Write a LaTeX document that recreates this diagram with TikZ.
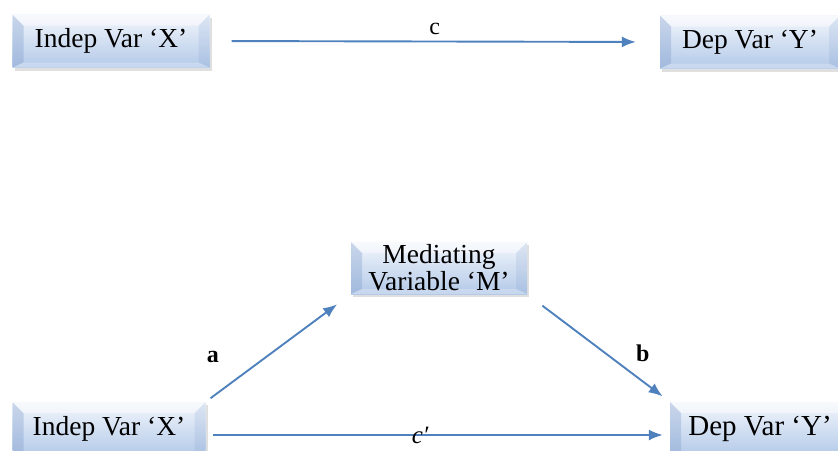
\documentclass[tikz,border=0pt]{standalone}
\usepackage{fontspec}
\setmainfont{Liberation Serif}
\newfontfamily\tnr{Liberation Serif}
\usetikzlibrary{arrows.meta,shadows,positioning}
\definecolor{linea}{HTML}{4F81BD}
\definecolor{cajaalta}{HTML}{F2F6FC}
\definecolor{cajabaja}{HTML}{B3C9E8}
\definecolor{bisel}{HTML}{7F9DCC}

\begin{document}
\begin{tikzpicture}[x=1pt,y=-1pt,>={Latex[length=14pt,width=11pt]},
      caja/.style={minimum width=197pt,minimum height=53pt,inner sep=0pt,
        align=center,font=\tnr\fontsize{27.5}{30}\selectfont,
        top color=cajaalta,bottom color=cajabaja,
        drop shadow={opacity=0.25,shadow xshift=2pt,shadow yshift=-3pt},
        path picture={
          \fill[bisel,opacity=0.35] (path picture bounding box.north west)
            -- ([xshift=11pt,yshift=-11pt]path picture bounding box.north west)
            -- ([xshift=11pt,yshift=5pt]path picture bounding box.south west)
            -- (path picture bounding box.south west) -- cycle;
          \fill[bisel,opacity=0.18] (path picture bounding box.north east)
            -- ([xshift=-11pt,yshift=-11pt]path picture bounding box.north east)
            -- ([xshift=-11pt,yshift=5pt]path picture bounding box.south east)
            -- (path picture bounding box.south east) -- cycle;
          \fill[white,opacity=0.45] (path picture bounding box.north west)
            -- (path picture bounding box.north east)
            -- ([xshift=-11pt,yshift=-11pt]path picture bounding box.north east)
            -- ([xshift=11pt,yshift=-11pt]path picture bounding box.north west) -- cycle;
          \fill[white,opacity=0.25] (path picture bounding box.south west)
            -- (path picture bounding box.south east)
            -- ([xshift=-11pt,yshift=5pt]path picture bounding box.south east)
            -- ([xshift=11pt,yshift=5pt]path picture bounding box.south west) -- cycle;
        }},
      flecha/.style={linea,line width=1.9pt,->},
      etiq/.style={text=black,font=\tnr\fontsize{24}{26}\selectfont}]
    \useasboundingbox (0,0) rectangle (838,450);

    % modelo total
    \node[caja] (xa) at (111,41) {Indep Var ‘X’};
    \node[caja,minimum width=180pt] (ya) at (750,42) {Dep Var ‘Y’};
    \draw[flecha,shorten <=22pt,shorten >=24pt] (xa.east) -- (ya.west)
      node[etiq,midway,above=2pt] {c};

    % modelo mediado
    \node[caja,minimum width=176pt,minimum height=52pt] (med) at (439,268)
      {Mediating\\[-3pt]Variable ‘M’};
    \node[caja,minimum width=193pt,minimum height=54pt] (xb) at (109,429) {Indep Var ‘X’};
    \node[caja,minimum width=180pt,minimum height=54pt,font=\tnr\fontsize{29}{31}\selectfont]
      (yb) at (760,429) {Dep Var ‘Y’};
    \draw[flecha,shorten <=6pt,shorten >=17pt] (xb.north east) -- (med.south west)
      node[etiq,pos=0.12,above left=22pt and 0pt,font=\tnr\bfseries\fontsize{24}{26}\selectfont] {a};
    \draw[flecha,shorten <=19pt,shorten >=9pt] (med.south east) -- (yb.north west)
      node[etiq,pos=0.72,above right=6pt and 2pt,font=\tnr\bfseries\fontsize{24}{26}\selectfont] {b};
    \draw[flecha,shorten <=7pt,shorten >=7pt] ([yshift=-6pt]xb.east) -- ([yshift=-6pt]yb.west)
      node[etiq,pos=0.462,font=\tnr\itshape\fontsize{25}{27}\selectfont] {c′};
  \end{tikzpicture}
\end{document}
